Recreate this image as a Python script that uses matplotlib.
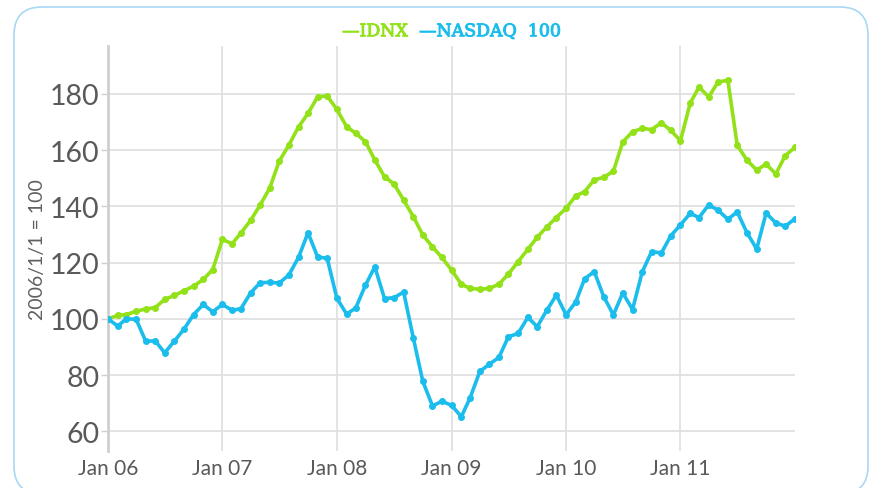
import numpy as np
import pandas as pd
import matplotlib
matplotlib.use("Agg")
import matplotlib.pyplot as plt
import matplotlib.patheffects as pe
from matplotlib.patches import FancyBboxPatch

# monthly index values, Jan 2006 .. Jan 2012 (2006/1/1 = 100)
months = pd.date_range("2006-01-01", periods=73, freq="MS")
idnx = [100, 101.2, 101.5, 102.7, 103.5, 104, 106.9, 108.3, 110, 111.6, 114, 117.5,
        128.2, 126.7, 130.5, 135, 140.4, 146.5, 156, 161.8, 168.3, 173, 179, 179.2,
        174.5, 168.3, 166, 163, 156.5, 150.5, 148, 142.2, 136.3, 129.8, 125.6, 121.8,
        117.3, 112.3, 110.8, 110.5, 110.8, 112.3, 115.9, 120.3, 124.7, 129, 132.7, 136,
        139.3, 143.7, 145.2, 149.4, 150.3, 152.5, 162.9, 166.5, 167.7, 167.3, 169.7, 167,
        163.3, 176.7, 182.4, 178.9, 184.2, 184.8, 161.7, 156.4, 152.9, 155, 151.5, 158, 161]
nasdaq = [100, 97.4, 100, 99.8, 92.1, 92.1, 87.9, 92.1, 96.4, 101.5, 105.1, 102.5,
          105.1, 103, 103.6, 109.2, 112.8, 113, 112.7, 115.6, 121.9, 130.6, 121.9, 121.6,
          107.3, 101.7, 103.8, 111.9, 118.5, 107.2, 107.5, 109.5, 93.1, 77.8, 69, 70.7,
          69.2, 65.2, 71.9, 81.3, 83.8, 86.3, 93.6, 94.8, 100.5, 97.2, 103.1, 108.4,
          101.4, 106, 114.2, 116.8, 107.9, 101.4, 109.2, 103.3, 116.7, 123.9, 123.4, 129.5,
          133.4, 137.5, 136, 140.5, 138.6, 135.4, 138, 130.6, 124.8, 137.6, 134.1, 132.9, 135.6]
year_ticks = pd.to_datetime(["2006-01-01", "2007-01-01", "2008-01-01",
                             "2009-01-01", "2010-01-01", "2011-01-01"])
year_labels = ["Jan 06", "Jan 07", "Jan 08", "Jan 09", "Jan 10", "Jan 11"]
y_ticks = [60, 80, 100, 120, 140, 160, 180]

green = "#93e118"
blue = "#1bbdec"
grey_txt = "#595959"

plt.rcParams["font.family"] = ["Lato", "DejaVu Sans"]

fig = plt.figure(figsize=(8.75, 4.89), dpi=100)
ax = fig.add_axes([0.1234, 0.0757, 0.7851, 0.8282])

ax.plot(months, idnx, color=green, lw=2.6, marker="o", ms=4, zorder=3)
ax.plot(months, nasdaq, color=blue, lw=2.6, marker="o", ms=4, zorder=3)

ax.set_xlim(months[0], months[-1])
ax.set_ylim(53, 197)
ax.set_yticks(y_ticks)
ax.set_xticks(year_ticks)
ax.set_xticklabels(year_labels)
ax.grid(True, color="#e0e0e0", lw=1.3)
ax.set_axisbelow(True)

for s in ["top", "right", "bottom"]:
    ax.spines[s].set_visible(False)
ax.spines["left"].set_color("#cfcfcf")
ax.spines["left"].set_linewidth(2)

ax.tick_params(axis="y", labelsize=20.5, colors="#cfcfcf", labelcolor=grey_txt,
               length=5, width=1, pad=1)
ax.tick_params(axis="x", labelsize=15, labelcolor=grey_txt, length=0, pad=5)
ax.set_ylabel("2006/1/1 = 100", fontsize=14, color="#606060", labelpad=3)

# legend drawn as plain text at the top
thick = [pe.withStroke(linewidth=0.7, foreground=green)]
fig.text(0.391, 0.933, "\u2014IDNX", color=green, fontsize=12.5,
         family="DejaVu Serif", ha="left", va="center", path_effects=thick)
thick = [pe.withStroke(linewidth=0.7, foreground=blue)]
fig.text(0.479, 0.933, "\u2014NASDAQ  100", color=blue, fontsize=12.5,
         family="DejaVu Serif", ha="left", va="center", path_effects=thick)

# rounded frame around the whole chart
frame = FancyBboxPatch((14, -6), 854, 487, boxstyle="round,pad=0,rounding_size=28",
                       transform=None, fill=False, ec="#a9d8f2", lw=1.2)
fig.add_artist(frame)

fig.savefig("out.png", dpi=100)
